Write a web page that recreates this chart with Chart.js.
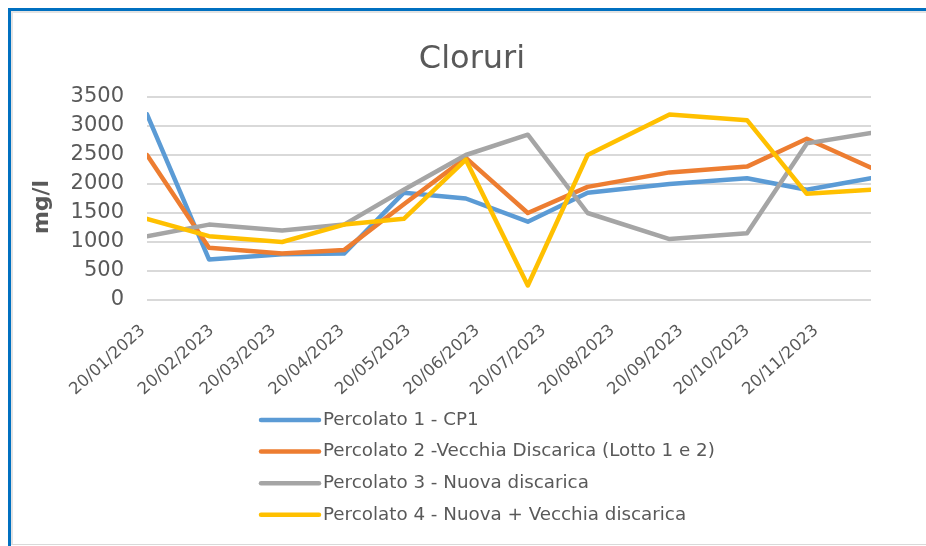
<!DOCTYPE html>
<html>
<head>
<meta charset="utf-8">
<title>Cloruri</title>
<script src="https://cdn.jsdelivr.net/npm/chart.js@4"></script>
<style>
  html, body { margin: 0; padding: 0; background: #fff; }
  #wrap { position: relative; width: 926px; height: 546px; overflow: hidden; background: #fff; }
  #frame { position: absolute; left: 8px; top: 8px; width: 940px; height: 560px; border-left: 3px solid #0070c0; border-top: 3px solid #0070c0; }
  #inner { position: absolute; left: 11px; top: 11px; width: 940px; height: 531px; border-left: 2px solid #e3e3e3; border-top: 2px solid #e3e3e3; border-bottom: 1px solid #d9d9d9; }
  canvas { position: absolute; left: 0; top: 0; }
</style>
</head>
<body>
<div id="wrap">
  <div id="frame"></div>
  <div id="inner"></div>
  <canvas id="chloridesChart" width="926" height="546"></canvas>
</div>
<script>
// sampling dates
var sampleDates = ['2023-01-20', '2023-02-17', '2023-03-22', '2023-04-19', '2023-05-16', '2023-06-13',
                   '2023-07-11', '2023-08-07', '2023-09-13', '2023-10-18', '2023-11-14', '2023-12-13'];
// monthly labels shown under the axis
var tickDates = ['2023-01-20', '2023-02-20', '2023-03-20', '2023-04-20', '2023-05-20', '2023-06-20',
                 '2023-07-20', '2023-08-20', '2023-09-20', '2023-10-20', '2023-11-20'];
var yTicks = [0, 500, 1000, 1500, 2000, 2500, 3000, 3500];

var chartTitle = 'Cloruri';
var yTitle = 'mg/l';
var seriesNames = [
    'Percolato 1 - CP1',
    'Percolato 2 -Vecchia Discarica (Lotto 1 e 2)',
    'Percolato 3 - Nuova discarica',
    'Percolato 4 - Nuova + Vecchia discarica'
];
var seriesColors = ['#5b9bd5', '#ed7d31', '#a5a5a5', '#ffc000'];

// mg/l
var percolato1 = [3200, 700, 790, 800, 1850, 1750, 1350, 1850, 2000, 2100, 1900, 2100];
var percolato2 = [2500, 900, 800, 860, 1650, 2450, 1500, 1950, 2200, 2300, 2780, 2280];
var percolato3 = [1100, 1300, 1200, 1300, 1900, 2500, 2850, 1500, 1050, 1150, 2700, 2880];
var percolato4 = [1400, 1100, 1000, 1300, 1400, 2420, 250, 2500, 3200, 3100, 1830, 1900];

function dayNum(s) {
    var p = s.split('-');
    return Date.UTC(+p[0], +p[1] - 1, +p[2]) / 86400000;
}
function pad(n) { return (n < 10 ? '0' : '') + n; }
function fmtDate(d) {
    var dt = new Date(d * 86400000);
    return pad(dt.getUTCDate()) + '/' + pad(dt.getUTCMonth() + 1) + '/' + dt.getUTCFullYear();
}
function toPoints(values) {
    return values.map(function(v, i) { return { x: dayNum(sampleDates[i]), y: v }; });
}

var textColor = '#595959';
var fontFamily = "'DejaVu Sans', sans-serif";
Chart.defaults.font.family = fontFamily;

var allSeries = [percolato1, percolato2, percolato3, percolato4];
var datasets = allSeries.map(function(values, i) {
    return {
        label: seriesNames[i],
        data: toPoints(values),
        borderColor: seriesColors[i],
        backgroundColor: seriesColors[i],
        borderWidth: 4.5,
        borderJoinStyle: 'round',
        borderCapStyle: 'round',
        pointRadius: 0,
        tension: 0,
        fill: false,
        order: allSeries.length - i   // later series on top, like Excel
    };
});

// title, axis title and a one-item-per-row legend, placed like the Excel chart
var excelDecor = {
    id: 'excelDecor',
    afterDraw: function(chart) {
        var ctx = chart.ctx;
        ctx.save();
        ctx.fillStyle = textColor;
        ctx.textAlign = 'center';
        ctx.textBaseline = 'middle';

        ctx.font = '32px ' + fontFamily;
        ctx.fillText(chartTitle, 472, 60);

        ctx.save();
        ctx.translate(42, 207);
        ctx.rotate(-Math.PI / 2);
        ctx.font = 'bold 22px ' + fontFamily;
        ctx.fillText(yTitle, 0, 0);
        ctx.restore();

        ctx.font = '18.3px ' + fontFamily;
        ctx.textAlign = 'left';
        chart.data.datasets.forEach(function(ds, i) {
            var y = 420 + i * 31.6;
            ctx.strokeStyle = ds.borderColor;
            ctx.lineWidth = 4.5;
            ctx.lineCap = 'round';
            ctx.beginPath();
            ctx.moveTo(261, y);
            ctx.lineTo(319, y);
            ctx.stroke();
            ctx.fillText(ds.label, 323, y);
        });
        ctx.restore();
    }
};

var ctx = document.getElementById('chloridesChart').getContext('2d');
var chloridesChart = new Chart(ctx, {
    type: 'line',
    data: { datasets: datasets },
    options: {
        responsive: false,
        animation: false,
        layout: { padding: { left: 24, right: 55, top: 97, bottom: 146 } },
        plugins: {
            legend: { display: false },
            tooltip: { enabled: false },
            title: { display: false }
        },
        scales: {
            x: {
                type: 'linear',
                min: dayNum(sampleDates[0]),
                max: dayNum(sampleDates[sampleDates.length - 1]),
                afterBuildTicks: function(scale) {
                    scale.ticks = tickDates.map(function(d) { return { value: dayNum(d) }; });
                },
                afterFit: function(scale) { scale.height = 100; },
                grid: { display: false, drawTicks: false },
                border: { display: false },
                ticks: {
                    autoSkip: false,
                    minRotation: 42,
                    maxRotation: 42,
                    padding: 21,
                    labelOffset: -4,
                    color: textColor,
                    font: { size: 16.5 },
                    callback: function(value) { return fmtDate(value); }
                }
            },
            y: {
                min: 0,
                max: 3500,
                afterBuildTicks: function(scale) {
                    scale.ticks = yTicks.map(function(v) { return { value: v }; });
                },
                afterFit: function(scale) { scale.width = 123; },
                grid: { color: '#d9d9d9', lineWidth: 2, drawTicks: false },
                border: { display: false },
                ticks: {
                    padding: 23,
                    color: textColor,
                    font: { size: 21 },
                    callback: function(value) { return String(value); }
                }
            }
        }
    },
    plugins: [excelDecor]
});
</script>
</body>
</html>
